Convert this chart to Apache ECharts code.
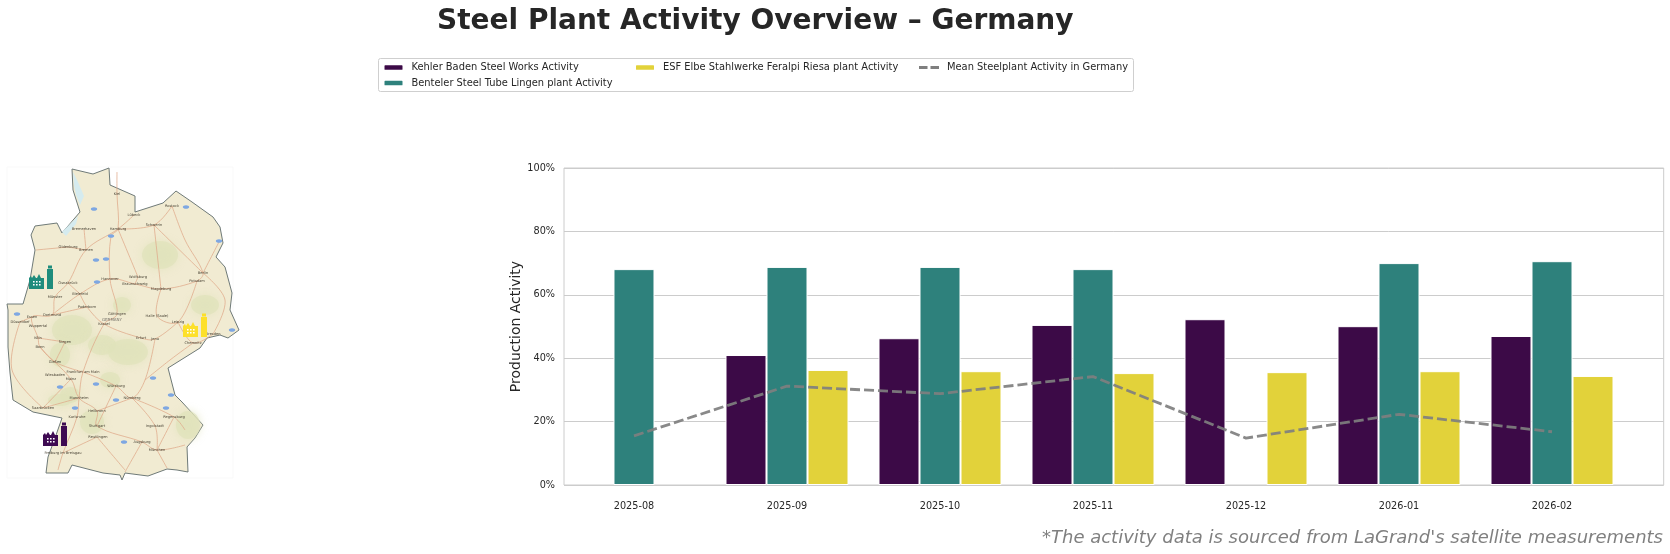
<!DOCTYPE html>
<html><head><meta charset="utf-8">
<style>html,body{margin:0;padding:0;background:#fff}#c{width:1670px;height:554px}</style>
<script src="https://cdn.jsdelivr.net/npm/echarts@6/dist/echarts.min.js"></script>
</head><body><div id="c"></div>
<script>
const months = ['2025-08','2025-09','2025-10','2025-11','2025-12','2026-01','2026-02'];
const kehler = [null,41,46.3,50.5,52.3,50.1,47];
const benteler = [68.1,68.8,68.8,68.1,null,70,70.6];
const esf = [null,36.3,35.9,35.3,35.6,35.9,34.4];
const meanActivity = [15.5,31.2,28.8,34.2,14.8,22.3,16.8];
const tickValues = [0,1,2,3,4,5,6];

const FONT = '"DejaVu Sans"';
const INK = '#262626';

const outline = [[72,169],[93,174],[109,168],[110,185],[135,196],[135,212],[163,203],[176,191],[192,202],[213,217],[220,227],[223,243],[216,257],[225,267],[232,293],[230,310],[239,330],[228,338],[220,335],[207,338],[200,348],[168,368],[175,395],[182,402],[203,425],[195,438],[187,447],[188,472],[177,470],[167,469],[148,476],[125,473],[122,480],[120,475],[103,473],[72,465],[68,473],[46,473],[48,457],[55,438],[62,418],[33,412],[13,400],[10,373],[8,347],[8,310],[7,304],[23,304],[30,280],[35,250],[31,235],[35,226],[57,223],[62,233],[80,212],[73,190]];
const cities = {Kiel:[117,194],'Lübeck':[134,215],Rostock:[172,206],Schwerin:[154,225],Hamburg:[118,229],Bremerhaven:[84,229],Bremen:[86,250],Oldenburg:[68,247],'Osnabrück':[68,283],'Münster':[55,297],Bielefeld:[80,294],Hannover:[110,279],Wolfsburg:[138,277],Braunschweig:[135,284],Magdeburg:[161,289],Berlin:[203,273],Potsdam:[197,281],Paderborn:[87,307],'Göttingen':[117,314],Kassel:[104,324],'Halle (Saale)':[157,316],Leipzig:[178,322],Dresden:[213,334],Chemnitz:[193,343],Erfurt:[141,338],Jena:[155,339],Essen:[32,317],Dortmund:[52,315],'Düsseldorf':[20,322],Wuppertal:[38,326],'Köln':[38,338],Bonn:[40,347],Siegen:[65,342],'Gießen':[55,362],'Frankfurt am Main':[83,372],Wiesbaden:[55,375],Mainz:[71,379],Saarbrücken:[43,408],Mannheim:[79,398],Heilbronn:[97,411],Karlsruhe:[77,417],Stuttgart:[97,426],Reutlingen:[98,437],'Würzburg':[116,386],'Nürnberg':[132,398],Regensburg:[174,417],Ingolstadt:[155,426],Augsburg:[142,442],'München':[157,450],'Freiburg im Breisgau':[63,453]};
const roads = [
 [[117,172],[117,194],[118,229],[111,236],[110,279],[117,314],[104,324],[83,372],[79,398],[77,417],[63,453],[58,470]],
 [[134,215],[118,229],[86,250],[68,283],[55,297],[52,315],[32,317],[38,338],[40,347],[71,379],[79,398],[97,411],[97,426],[142,442],[157,450],[185,445]],
 [[172,206],[154,225],[118,229]],[[172,206],[185,240],[203,273],[197,281],[161,289],[135,284],[110,279],[80,294],[52,315]],
 [[203,273],[220,240]],[[203,273],[225,300],[213,334]],[[197,281],[178,322],[157,316],[161,289]],[[178,322],[193,343],[213,334]],[[178,322],[155,339],[141,338],[104,324],[87,307],[80,294]],
 [[155,339],[145,380],[132,398],[116,386],[83,372]],[[132,398],[155,426],[157,450]],[[132,398],[174,417],[185,430]],[[174,417],[157,450]],[[193,343],[170,360],[145,380]],
 [[97,426],[116,386]],[[97,411],[132,398]],[[43,408],[79,398]],[[43,408],[71,379]],[[40,347],[55,362],[83,372]],[[65,342],[38,338]],[[65,342],[55,362]],[[52,315],[87,307]],[[68,247],[86,250]],[[68,247],[36,250]],[[84,229],[86,250]],[[68,283],[80,294]],[[138,277],[135,284]],[[154,225],[203,273]],[[154,225],[161,289]],[[118,229],[138,277]],[[20,322],[32,317]],[[20,322],[12,370],[43,408]],[[97,437],[125,470]],[[63,453],[97,437]],[[157,450],[167,468]],[[142,442],[125,472]]
];
const badges = [[94,209],[186,207],[111,236],[96,260],[106,259],[97,282],[219,241],[17,314],[232,330],[153,378],[96,384],[60,387],[171,395],[116,400],[75,408],[166,408],[124,442]];
const patches = [[72,330,20,15],[102,345,14,10],[122,305,9,8],[128,352,20,13],[92,422,12,12],[70,395,10,8],[188,425,12,14],[60,400,12,6],[110,380,10,8],[205,305,14,10],[160,255,18,14],[60,355,10,12]];

function factory(x, y, color) {
  const c = [
    {type:'polygon',shape:{points:[[x,y+16],[x,y+5],[x+2,y+3],[x+3,y+5],[x+5,y+2],[x+7,y+5],[x+8,y+5],[x+10,y+1],[x+12,y+5],[x+15,y+5],[x+15,y+16]]},style:{fill:color},silent:true},
    {type:'rect',shape:{x:x+18,y:y-4,width:6,height:20},style:{fill:color},silent:true},
    {type:'rect',shape:{x:x+19,y:y-7.5,width:4,height:3},style:{fill:color},silent:true}
  ];
  for (let r = 0; r < 2; r++) for (let k = 0; k < 3; k++)
    c.push({type:'rect',shape:{x:x+4+k*3,y:y+8+r*3,width:1.6,height:1.6},style:{fill:'#fff'},silent:true});
  return c;
}

function mapElements() {
  const els = [];
  els.push({type:'rect',shape:{x:7,y:167,width:226,height:311},style:{fill:'none',stroke:'#f9f9f9',lineWidth:1},silent:true});
  els.push({type:'polygon',shape:{points:outline},style:{fill:'#f1ebd2',stroke:'#6f7a78',lineWidth:1},silent:true});
  patches.forEach(p => els.push({type:'ellipse',shape:{cx:p[0],cy:p[1],rx:p[2],ry:p[3]},style:{fill:'#dfe2ba',opacity:.7,shadowBlur:8,shadowColor:'#dfe2ba'},silent:true}));
  els.push({type:'polygon',shape:{points:[[73,172],[78,182],[84,196],[80,205],[76,195],[74,185]]},style:{fill:'#d5ebef'},silent:true});
  els.push({type:'polygon',shape:{points:[[62,232],[78,216],[76,224],[66,236]]},style:{fill:'#d5ebef'},silent:true});
  roads.forEach(r => els.push({type:'polyline',shape:{points:r,smooth:0.35},style:{fill:'none',stroke:'#e0a98a',lineWidth:.9,opacity:.85},silent:true}));
  badges.forEach(b => els.push({type:'ellipse',shape:{cx:b[0],cy:b[1],rx:3.2,ry:1.8},style:{fill:'#7ea7e2'},silent:true}));
  Object.keys(cities).forEach(n => els.push({type:'text',x:cities[n][0],y:cities[n][1],style:{text:n,font:'3.6px '+FONT,fill:'#4a4436',align:'center',verticalAlign:'middle'},silent:true}));
  els.push({type:'text',x:112,y:320,style:{text:'GERMANY',font:'4px '+FONT,fill:'#77736a',align:'center',verticalAlign:'middle'},silent:true});
  els.push(...factory(29,273,'#1f8c7c'),...factory(43,430,'#3e0a52'),...factory(183,321,'#fde02a'));
  return els;
}

const legendFrame = {type:'rect',shape:{x:378.5,y:58.5,width:755,height:33,r:2},style:{fill:'#fff',stroke:'#cfcfcf',lineWidth:1},silent:true,z:-1};
const footnote = {type:'text',x:1663,y:538,style:{text:"*The activity data is sourced from LaGrand's satellite measurements",font:'italic 18px '+FONT,fill:'#808080',align:'right',verticalAlign:'middle'},silent:true};
const legendBase = {orient:'vertical',padding:0,itemWidth:20,itemHeight:6.5,itemGap:5.5,selectedMode:false,textStyle:{fontFamily:FONT,fontSize:9.9,color:INK,padding:[0,0,0,3]}};

const toPairs = vals => vals.map((v,i)=>[i,v]);
const barStyle = color => ({color,borderColor:'#fff',borderWidth:1});
const option = {
  animation:false,
  backgroundColor:'#fff',
  textStyle:{fontFamily:FONT},
  title:{text:'Steel Plant Activity Overview – Germany',left:437,top:8,padding:0,textStyle:{fontFamily:FONT,fontWeight:'bold',fontSize:28,color:INK}},
  legend:[
    Object.assign({},legendBase,{left:382.5,top:62.5,data:['Kehler Baden Steel Works Activity','Benteler Steel Tube Lingen plant Activity']}),
    Object.assign({},legendBase,{left:634,top:62.5,data:['ESF Elbe Stahlwerke Feralpi Riesa plant Activity']}),
    Object.assign({},legendBase,{left:919,top:62.5,symbolKeepAspect:false,itemHeight:2.8,itemStyle:{color:'#7f7f7f',borderWidth:0},lineStyle:{width:0},
      data:[{name:'Mean Steelplant Activity in Germany',icon:'path://M0,0H8.5V3H0Z M11.5,0H20V3H11.5Z'}]})
  ],
  grid:{left:564,top:168,width:1099.7,height:317,show:true,borderColor:'#cccccc',borderWidth:1,backgroundColor:'#fff'},
  xAxis:{type:'value',min:-0.4575,max:6.73,splitLine:{show:false},axisLine:{show:false},axisTick:{show:false},
    axisLabel:{customValues:tickValues,formatter:v=>months[v],fontFamily:FONT,fontSize:9.7,color:INK,margin:16}},
  yAxis:{type:'value',min:0,max:100,interval:20,name:'Production Activity',nameLocation:'middle',nameGap:41,nameMoveOverlap:false,
    nameTextStyle:{fontFamily:FONT,fontSize:14,color:INK},
    axisLine:{show:false},axisTick:{show:false},splitLine:{lineStyle:{color:'#cccccc',width:1}},
    axisLabel:{formatter:'{value}%',fontFamily:FONT,fontSize:9.7,color:INK,margin:9}},
  series:[
    {name:'Kehler Baden Steel Works Activity',type:'bar',barWidth:41,barGap:0,data:toPairs(kehler),itemStyle:barStyle('#3c0a47')},
    {name:'Benteler Steel Tube Lingen plant Activity',type:'bar',barWidth:41,barGap:0,data:toPairs(benteler),itemStyle:barStyle('#2e817c')},
    {name:'ESF Elbe Stahlwerke Feralpi Riesa plant Activity',type:'bar',barWidth:41,barGap:0,data:toPairs(esf),itemStyle:barStyle('#e2d23a')},
    {name:'Mean Steelplant Activity in Germany',type:'line',data:toPairs(meanActivity),showSymbol:false,symbol:'none',z:5,
      itemStyle:{color:'#7f7f7f'},lineStyle:{color:'#7f7f7f',width:2.8,type:[10,4],opacity:.92}}
  ],
  graphic:{elements:[legendFrame,footnote,...mapElements()]}
};
const chart = echarts.init(document.getElementById('c'),null,{renderer:'canvas'});
chart.setOption(option);
</script></body></html>
